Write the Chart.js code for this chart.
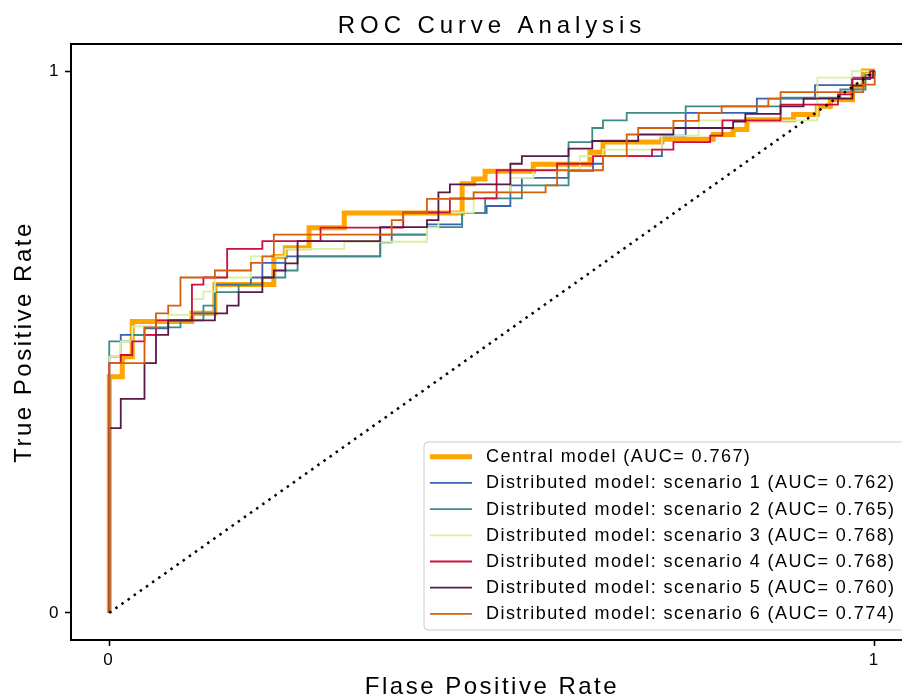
<!DOCTYPE html>
<html>
<head>
<meta charset="utf-8">
<title>ROC Curve Analysis</title>
<script src="https://cdn.jsdelivr.net/npm/chart.js@4.4.0/dist/chart.umd.min.js"></script>
<style>
  html, body { margin: 0; padding: 0; background: #fff; overflow: hidden; }
  #wrap { width: 902px; height: 699px; overflow: hidden; position: relative; }
  #rocChart { display: block; }
</style>
</head>
<body>
<div id="wrap"><canvas id="rocChart" width="940" height="699"></canvas></div>
<script>
// === data (fpr = x, tpr = y, corners of each step) ===
var chartTitle = 'ROC Curve Analysis';
var xTitle = 'Flase Positive Rate';
var yTitle = 'True Positive Rate';
var tickValues = [0, 1];

var seriesLabels = [
  'Central model (AUC= 0.767)',
  'Distributed model: scenario 1 (AUC= 0.762)',
  'Distributed model: scenario 2 (AUC= 0.765)',
  'Distributed model: scenario 3 (AUC= 0.768)',
  'Distributed model: scenario 4 (AUC= 0.768)',
  'Distributed model: scenario 5 (AUC= 0.760)',
  'Distributed model: scenario 6 (AUC= 0.774)'
];
var seriesColors = ['#ffa500', '#3a62b4', '#3d8b87', '#d8f0a0', '#cc1040', '#5a1a47', '#d65f0e'];

var centralFpr = [0, 0, 0.017, 0.03, 0.108, 0.138, 0.215, 0.23, 0.261, 0.307, 0.461, 0.476, 0.491, 0.554, 0.628, 0.645, 0.722, 0.789, 0.815, 0.833, 0.894, 0.925, 0.942, 0.971, 0.985, 1];
var centralTpr = [0, 0.436, 0.473, 0.538, 0.553, 0.606, 0.658, 0.674, 0.711, 0.738, 0.792, 0.801, 0.815, 0.828, 0.85, 0.869, 0.874, 0.883, 0.892, 0.91, 0.92, 0.935, 0.947, 0.972, 1, 1];

var s1Fpr = [0, 0, 0.015, 0.046, 0.077, 0.108, 0.138, 0.185, 0.2, 0.23, 0.354, 0.369, 0.415, 0.461, 0.493, 0.524, 0.539, 0.6, 0.632, 0.645, 0.722, 0.753, 0.846, 0.922, 0.97, 0.998, 1];
var s1Tpr = [0, 0.473, 0.513, 0.525, 0.54, 0.553, 0.606, 0.619, 0.646, 0.658, 0.684, 0.698, 0.717, 0.738, 0.751, 0.789, 0.803, 0.816, 0.829, 0.843, 0.881, 0.923, 0.949, 0.974, 0.988, 1, 1];

var s2Fpr = [0, 0, 0.03, 0.061, 0.093, 0.123, 0.138, 0.169, 0.2, 0.23, 0.246, 0.354, 0.415, 0.461, 0.491, 0.539, 0.6, 0.631, 0.645, 0.676, 0.753, 0.877, 0.955, 0.988, 1];
var s2Tpr = [0, 0.501, 0.513, 0.527, 0.54, 0.567, 0.592, 0.606, 0.619, 0.632, 0.658, 0.698, 0.712, 0.738, 0.765, 0.789, 0.869, 0.895, 0.909, 0.923, 0.935, 0.951, 0.966, 0.993, 1];

var s3Fpr = [0, 0, 0.015, 0.03, 0.061, 0.077, 0.108, 0.123, 0.138, 0.185, 0.23, 0.307, 0.415, 0.43, 0.476, 0.524, 0.554, 0.615, 0.645, 0.722, 0.77, 0.925, 0.97, 1];
var s3Tpr = [0, 0.473, 0.501, 0.529, 0.54, 0.55, 0.579, 0.593, 0.619, 0.658, 0.672, 0.685, 0.711, 0.739, 0.776, 0.803, 0.818, 0.843, 0.855, 0.881, 0.909, 0.988, 1, 1];

var s4Fpr = [0, 0, 0.015, 0.03, 0.046, 0.061, 0.108, 0.123, 0.154, 0.2, 0.276, 0.384, 0.445, 0.506, 0.585, 0.632, 0.709, 0.737, 0.785, 0.801, 0.877, 0.952, 0.971, 0.994, 1];
var s4Tpr = [0, 0.461, 0.476, 0.501, 0.513, 0.54, 0.606, 0.619, 0.672, 0.686, 0.711, 0.739, 0.765, 0.817, 0.829, 0.843, 0.855, 0.869, 0.881, 0.909, 0.938, 0.957, 0.985, 1, 1];

var s5Fpr = [0, 0, 0.015, 0.046, 0.061, 0.077, 0.138, 0.154, 0.169, 0.2, 0.215, 0.23, 0.246, 0.354, 0.415, 0.43, 0.445, 0.524, 0.539, 0.6, 0.631, 0.691, 0.737, 0.815, 0.831, 0.877, 0.907, 0.971, 0.985, 0.998, 1];
var s5Tpr = [0, 0.341, 0.395, 0.461, 0.513, 0.54, 0.553, 0.567, 0.592, 0.619, 0.632, 0.645, 0.686, 0.712, 0.725, 0.776, 0.791, 0.829, 0.843, 0.857, 0.871, 0.883, 0.895, 0.907, 0.921, 0.935, 0.949, 0.973, 0.988, 1, 1];

var s6Fpr = [0, 0, 0.046, 0.061, 0.077, 0.093, 0.138, 0.185, 0.2, 0.215, 0.369, 0.384, 0.415, 0.476, 0.57, 0.585, 0.645, 0.676, 0.691, 0.737, 0.77, 0.8, 0.861, 0.877, 0.985, 1];
var s6Tpr = [0, 0.461, 0.527, 0.553, 0.567, 0.619, 0.632, 0.646, 0.658, 0.698, 0.725, 0.739, 0.764, 0.776, 0.789, 0.817, 0.843, 0.883, 0.895, 0.908, 0.923, 0.935, 0.949, 0.961, 0.975, 1];

var chanceFpr = [0, 1];
var chanceTpr = [0, 1];

var FONT = "'Liberation Sans', Arial, sans-serif";

function toPoints(xs, ys) {
  return xs.map(function (x, i) { return { x: x, y: ys[i] }; });
}

var curves = [
  [centralFpr, centralTpr], [s1Fpr, s1Tpr], [s2Fpr, s2Tpr], [s3Fpr, s3Tpr],
  [s4Fpr, s4Tpr], [s5Fpr, s5Tpr], [s6Fpr, s6Tpr]
];

// central model underneath, scenarios on top, dotted chance line over all
var datasets = curves.map(function (c, i) {
  return {
    label: seriesLabels[i],
    data: toPoints(c[0], c[1]),
    borderColor: seriesColors[i],
    borderWidth: i === 0 ? 5 : 1.8,
    stepped: true,
    fill: false,
    pointRadius: 0,
    order: curves.length - i
  };
});
datasets.push({
  label: 'chance',
  data: toPoints(chanceFpr, chanceTpr),
  borderColor: '#000',
  borderWidth: 2.5,
  borderDash: [2.5, 5],
  pointRadius: 0,
  fill: false,
  order: 0
});

// === frame, title and legend box (matplotlib look) ===
var rocFrame = {
  id: 'rocFrame',
  beforeDraw: function (chart) {
    var c = chart.ctx;
    c.save();
    c.fillStyle = '#fff';
    c.fillRect(0, 0, chart.width, chart.height);
    c.restore();
    c.letterSpacing = '2.5px'; // axis titles are spaced out in the reference
  },
  afterDraw: function (chart) {
    var c = chart.ctx;
    var a = chart.chartArea;
    c.save();

    c.strokeStyle = '#000';
    c.lineWidth = 2;
    c.strokeRect(a.left, a.top, a.right - a.left, a.bottom - a.top);

    c.fillStyle = '#000';
    c.font = '24px ' + FONT;
    c.letterSpacing = '4.9px';
    c.textAlign = 'center';
    c.textBaseline = 'alphabetic';
    c.fillText(chartTitle, (a.left + a.right) / 2, a.top - 10.7);

    // legend, lower right
    var w = 482, h = 188, r = 4;
    var bx = a.right - 7 - w, by = a.bottom - 10 - h;
    c.beginPath();
    c.moveTo(bx + r, by);
    c.arcTo(bx + w, by, bx + w, by + h, r);
    c.arcTo(bx + w, by + h, bx, by + h, r);
    c.arcTo(bx, by + h, bx, by, r);
    c.arcTo(bx, by, bx + w, by, r);
    c.closePath();
    c.fillStyle = 'rgba(255,255,255,0.8)';
    c.fill();
    c.strokeStyle = '#cccccc';
    c.lineWidth = 1;
    c.stroke();

    c.font = '18px ' + FONT;
    c.letterSpacing = '1.45px';
    c.textAlign = 'left';
    c.textBaseline = 'middle';
    seriesLabels.forEach(function (label, i) {
      var y = by + 14.7 + i * 26.2;
      c.beginPath();
      c.moveTo(bx + 6, y);
      c.lineTo(bx + 48, y);
      c.strokeStyle = seriesColors[i];
      c.lineWidth = i === 0 ? 5 : 1.8;
      c.stroke();
      c.fillStyle = '#000';
      c.fillText(label, bx + 62, y + 0.5);
    });

    c.restore();
  }
};

function onlyTicks(scale) {
  scale.ticks = tickValues.map(function (v) { return { value: v }; });
}

var ctx = document.getElementById('rocChart').getContext('2d');
new Chart(ctx, {
  type: 'line',
  data: { datasets: datasets },
  options: {
    responsive: false,
    animation: false,
    devicePixelRatio: 1,
    layout: { padding: { top: 44, right: 27, bottom: 0, left: 0 } },
    plugins: {
      legend: { display: false },
      tooltip: { enabled: false },
      title: { display: false }
    },
    scales: {
      x: {
        type: 'linear',
        min: -0.05,
        max: 1.05,
        afterFit: function (s) { s.height = 59; },
        afterBuildTicks: onlyTicks,
        ticks: {
          color: '#000',
          font: { family: FONT, size: 17 },
          padding: 4,
          callback: function (v) { return String(v); }
        },
        grid: { drawOnChartArea: false, drawTicks: true, tickLength: 6, tickWidth: 1.6, tickColor: '#000' },
        border: { display: false },
        title: {
          display: true,
          text: xTitle,
          color: '#000',
          font: { family: FONT, size: 24, lineHeight: 1 },
          padding: { top: 0, bottom: 0 }
        }
      },
      y: {
        type: 'linear',
        min: -0.05,
        max: 1.05,
        afterFit: function (s) { s.width = 71; },
        afterBuildTicks: onlyTicks,
        ticks: {
          color: '#000',
          font: { family: FONT, size: 17 },
          padding: 4,
          callback: function (v) { return String(v); }
        },
        grid: { drawOnChartArea: false, drawTicks: true, tickLength: 6, tickWidth: 1.6, tickColor: '#000' },
        border: { display: false },
        title: {
          display: true,
          text: yTitle,
          color: '#000',
          font: { family: FONT, size: 24, lineHeight: 1 },
          padding: { top: 12.5, bottom: 0 }
        }
      }
    }
  },
  plugins: [rocFrame]
});
</script>
</body>
</html>
